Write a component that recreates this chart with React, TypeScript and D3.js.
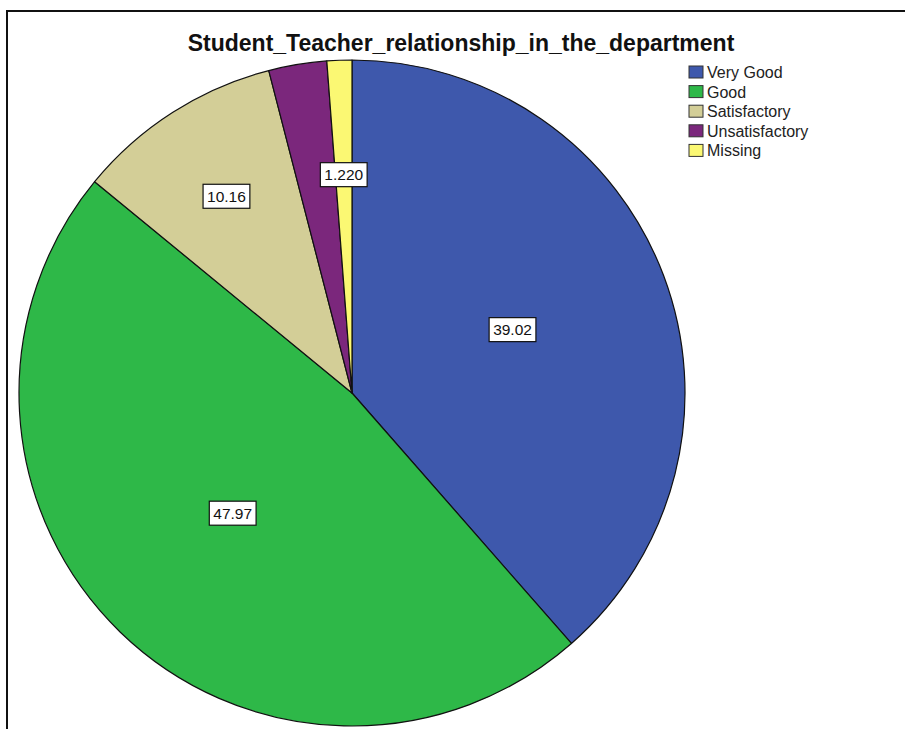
import React, { useEffect, useRef } from 'react';
import * as d3 from 'd3';

const categories = ['Very Good', 'Good', 'Satisfactory', 'Unsatisfactory', 'Missing'];
const values = [39.02, 47.97, 10.16, 2.85, 1.22];
const valueLabels = ['39.02', '47.97', '10.16', '', '1.220'];
const colors = ['#3e58ac', '#2eb848', '#d3ce97', '#7b277c', '#fbf873'];
const title = 'Student_Teacher_relationship_in_the_department';

const W = 905;
const H = 729;

const App = () => {
  const svgRef = useRef<SVGSVGElement>(null);

  useEffect(() => {
    const svg = d3.select(svgRef.current);
    svg.selectAll('*').remove();

    // frame (only top and left edges show in the crop)
    svg.append('path')
      .attr('d', `M7,${H + 5} L7,11 L${W + 5},11`)
      .attr('fill', 'none')
      .attr('stroke', '#111')
      .attr('stroke-width', 2);

    svg.append('text')
      .attr('x', 461)
      .attr('y', 51)
      .attr('text-anchor', 'middle')
      .attr('font-family', 'Liberation Sans, Arial, sans-serif')
      .attr('font-weight', 'bold')
      .attr('font-size', 23)
      .attr('fill', '#111')
      .text(title);

    const cx = 352;
    const cy = 393;
    const r = 333;

    const data = categories.map((c, i) => ({ name: c, value: values[i], label: valueLabels[i], color: colors[i] }));

    const pie = d3.pie<any>()
      .sort(null)
      .value(d => d.value)
      .startAngle(0)
      .endAngle(2 * Math.PI);

    const arc = d3.arc<any>().innerRadius(0).outerRadius(r);

    const g = svg.append('g').attr('transform', `translate(${cx},${cy})`);
    const arcs = pie(data);

    g.selectAll('path.slice')
      .data(arcs)
      .join('path')
      .attr('class', 'slice')
      .attr('d', arc)
      .attr('fill', d => d.data.color)
      .attr('stroke', '#111')
      .attr('stroke-width', 1.2)
      .attr('stroke-linejoin', 'round');

    // big slices get labels near the middle, thin ones further out
    const labelPos = (d: any) => {
      const big = d.data.value > 20;
      const lr = big ? r * 0.515 : r * (0.65 + 0.005 * d.data.value);
      const [x, y] = d3.arc<any>().innerRadius(lr).outerRadius(lr).centroid(d);
      return [x, big ? y - 3 : y];
    };

    const lab = g.selectAll('g.lab')
      .data(arcs.filter(d => d.data.label !== ''))
      .join('g')
      .attr('class', 'lab')
      .attr('transform', d => {
        const [x, y] = labelPos(d);
        return `translate(${x},${y})`;
      });

    lab.each(function (d: any) {
      const el = d3.select(this);
      const t = el.append('text')
        .attr('text-anchor', 'middle')
        .attr('dy', '0.36em')
        .attr('font-family', 'Liberation Sans, Arial, sans-serif')
        .attr('font-size', 15.5)
        .attr('fill', '#111')
        .text(d.data.label);
      const bw = (t.node() as SVGTextElement).getComputedTextLength() + 8;
      el.insert('rect', 'text')
        .attr('x', -bw / 2)
        .attr('y', -12)
        .attr('width', bw)
        .attr('height', 24)
        .attr('fill', '#fff')
        .attr('stroke', '#111')
        .attr('stroke-width', 1.2);
    });

    // legend
    const legend = svg.append('g').attr('transform', 'translate(689,66)');
    const rows = legend.selectAll('g')
      .data(data)
      .join('g')
      .attr('transform', (d, i) => `translate(0,${i * 19.6})`);

    rows.append('rect')
      .attr('width', 14)
      .attr('height', 12)
      .attr('fill', d => d.color)
      .attr('stroke', '#333')
      .attr('stroke-width', 1);

    rows.append('text')
      .attr('x', 18)
      .attr('y', 12)
      .attr('font-family', 'Liberation Sans, Arial, sans-serif')
      .attr('font-size', 16)
      .attr('fill', '#222')
      .text(d => d.name);
  }, []);

  return (
    <svg
      ref={svgRef}
      width={W}
      height={H}
      style={{ position: 'absolute', left: 0, top: 0, background: '#fff' }}
    />
  );
};

export default App;
